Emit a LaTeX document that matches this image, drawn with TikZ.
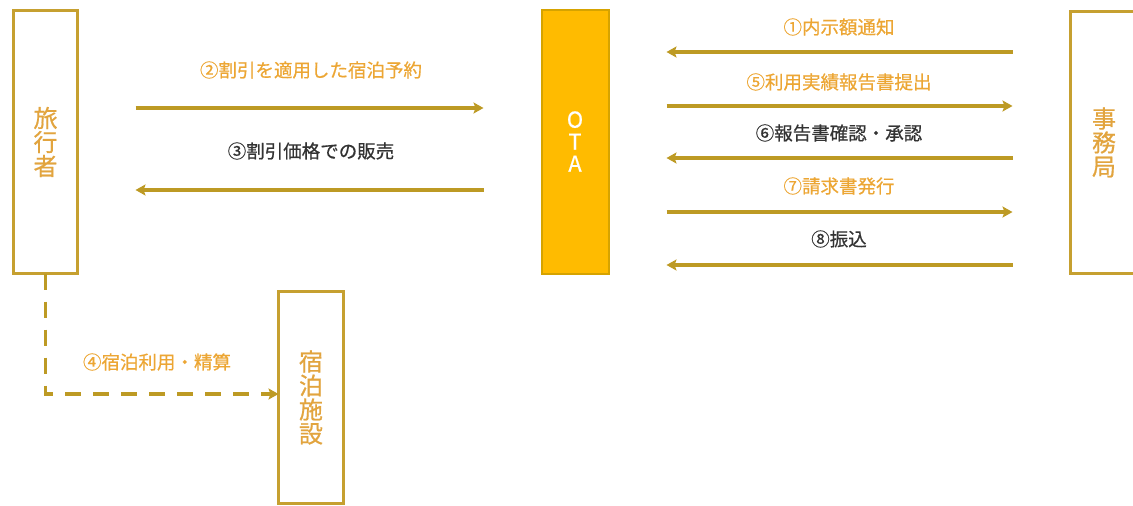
\documentclass[tikz,border=0pt]{standalone}
\usepackage{fontspec}
\setmainfont{Noto Sans CJK JP}
\newfontfamily\medfont{Noto Sans CJK JP}[FakeBold=0.6]
\usetikzlibrary{arrows.meta, positioning}

\definecolor{linegold}{RGB}{189,154,36}
\definecolor{boxgold}{RGB}{198,160,48}
\definecolor{labelorange}{RGB}{236,166,52}
\definecolor{boxtext}{RGB}{226,164,62}
\definecolor{textdark}{RGB}{51,51,51}
\definecolor{otafill}{RGB}{255,187,0}
\definecolor{otaborder}{RGB}{214,163,0}

\begin{document}
\begin{tikzpicture}[x=1pt, y=-1pt,
    party/.style={draw=boxgold, line width=3pt, fill=white, outer sep=0pt, inner sep=0pt, text=boxtext, font=\medfont\fontsize{24}{24}\selectfont, align=center},
    otabox/.style={draw=otaborder, line width=2pt, fill=otafill, outer sep=0pt, inner sep=0pt, text=white, font=\medfont\fontsize{22}{22}\selectfont, align=center},
    flow/.style={draw=linegold, line width=3.5pt, shorten <=58pt, shorten >=58pt, -{Stealth[length=10pt, width=11pt, inset=2pt]}},
    dashflow/.style={draw=linegold, line width=3.5pt, dash pattern=on 16pt off 12pt, -{Stealth[length=10pt, width=11pt, inset=2pt]}},
    lbl/.style={font=\medfont\fontsize{18.5}{20}\selectfont, inner sep=0pt, text=labelorange},
    lbldark/.style={lbl, text=textdark}
]
    \useasboundingbox (0,0) rectangle (1133,506);

    % Parties
    \node[party, minimum width=64pt, minimum height=263pt] (traveler) at (45.5,142) {旅\\行\\者};
    \node[otabox, minimum width=67pt, minimum height=264pt] (ota) at (575,141.5) {O\\T\\A};
    \node[party, minimum width=67pt, minimum height=262pt] (office) at (1104,142.5) {事\\務\\局};
    \node[party, minimum width=65pt, minimum height=212pt] (facility) at (311,397.5) {宿\\泊\\施\\設};

    % Traveler <-> OTA
    \node[lbl] (lblReserve) at (311,70) {②割引を適用した宿泊予約};
    \draw[flow] (traveler.east |- 0,108) -- (ota.west |- 0,108);
    \node[lbldark] (lblSale) at (311,151) {③割引価格での販売};
    \draw[flow] (ota.west |- 0,190) -- (traveler.east |- 0,190);

    % OTA <-> Office
    \node[lbl] (lblNotice) at (839,27) {①内示額通知};
    \draw[flow] (office.west |- 0,52) -- (ota.east |- 0,52);
    \node[lbl] (lblReport) at (839,82) {⑤利用実績報告書提出};
    \draw[flow] (ota.east |- 0,106) -- (office.west |- 0,106);
    \node[lbldark] (lblApprove) at (839,133) {⑥報告書確認・承認};
    \draw[flow] (office.west |- 0,158) -- (ota.east |- 0,158);
    \node[lbl] (lblInvoice) at (839,186) {⑦請求書発行};
    \draw[flow] (ota.east |- 0,212) -- (office.west |- 0,212);
    \node[lbldark] (lblTransfer) at (839,239) {⑧振込};
    \draw[flow] (office.west |- 0,265) -- (ota.east |- 0,265);

    % Stay
    \node[lbl] (lblStay) at (157,362) {④宿泊利用・精算};
    \draw[dashflow] (traveler.south) |- ([yshift=3.5pt]facility.west);
\end{tikzpicture}
\end{document}
